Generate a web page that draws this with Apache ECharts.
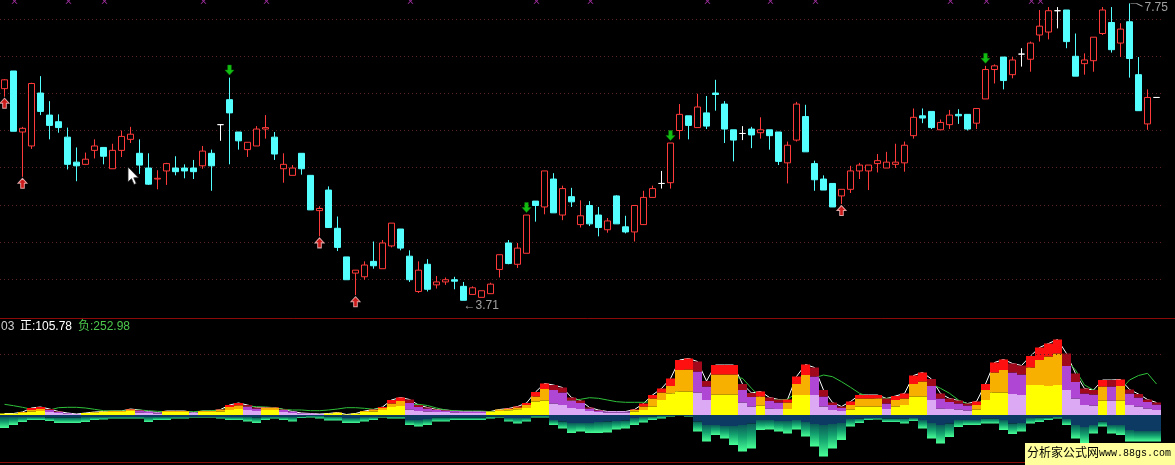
<!DOCTYPE html>
<html>
<head>
<meta charset="utf-8">
<script src="https://cdn.jsdelivr.net/npm/echarts@6/dist/echarts.min.js"></script>
<style>
html,body{margin:0;padding:0;background:#000;overflow:hidden;}
#c{width:1175px;height:465px;}
</style>
</head>
<body>
<div id="c"></div>
<script>
// ---------- price panel (candles) ----------
const opens = [
6.59,6.83,6.00,5.81,6.53,6.23,6.14,5.93,5.59,5.56,
5.75,5.79,5.50,5.75,5.90,5.71,5.51,5.36,5.47,5.51,
5.51,5.51,5.54,5.71,6.10,6.44,6.00,5.76,5.81,6.04,
5.93,5.50,5.41,5.71,5.41,4.93,5.21,4.69,4.30,4.08,
4.03,4.24,4.14,4.45,4.68,4.31,3.83,4.20,3.92,3.96,
3.99,3.90,3.79,3.75,3.80,4.13,4.49,4.20,4.35,5.06,
4.98,5.36,4.87,5.12,4.74,5.00,4.87,4.67,5.13,4.71,
4.64,4.74,5.11,5.30,5.31,6.02,6.22,6.06,6.26,6.53,
6.38,6.03,5.98,6.04,5.99,6.03,6.00,5.58,5.89,6.21,
5.57,5.36,5.30,5.13,5.22,5.47,5.47,5.57,5.51,5.56,
5.58,5.95,6.22,6.28,6.03,6.10,6.24,6.24,6.12,6.45,
6.85,7.02,6.78,7.06,6.99,7.32,7.36,7.65,7.66,7.03,
6.93,6.97,7.34,7.49,7.21,7.50,6.78,6.11,6.47];
const closes = [
6.71,6.01,6.05,6.66,6.28,6.09,6.06,5.56,5.54,5.63,
5.81,5.67,5.75,5.94,5.97,5.55,5.29,5.37,5.57,5.46,
5.47,5.46,5.74,5.54,6.10,6.26,5.88,5.86,6.04,6.06,
5.70,5.56,5.51,5.50,4.94,4.96,4.70,4.43,3.99,4.12,
4.19,4.18,4.49,4.76,4.42,3.99,4.12,3.86,3.96,3.99,
3.97,3.71,3.88,3.84,3.93,4.33,4.21,4.42,4.87,5.00,
5.47,4.90,5.23,5.05,4.86,4.75,4.70,4.79,4.75,4.64,
5.00,5.11,5.23,5.30,5.85,6.24,6.09,6.34,6.08,6.51,
6.04,5.89,5.98,5.96,6.03,5.95,5.60,5.82,6.38,5.73,
5.35,5.21,4.98,5.22,5.47,5.55,5.55,5.61,5.59,5.59,
5.82,6.20,6.19,6.06,6.13,6.23,6.22,6.04,6.32,6.85,
6.90,6.70,6.98,7.06,7.21,7.44,7.65,7.65,7.23,6.76,
6.98,7.29,7.66,7.12,7.40,7.00,6.29,6.47,6.47];
const lows = [
6.48,6.01,5.39,5.77,6.23,5.90,5.99,5.49,5.33,5.55,
5.64,5.56,5.50,5.66,5.85,5.43,5.28,5.22,5.28,5.41,
5.37,5.36,5.50,5.20,5.88,5.56,5.76,5.66,5.81,5.91,
5.62,5.31,5.41,5.42,4.94,4.58,4.70,4.38,3.99,3.78,
3.99,4.14,4.14,4.43,4.39,3.96,3.81,3.83,3.87,3.92,
3.86,3.71,3.79,3.75,3.80,4.02,4.20,4.15,4.35,4.78,
4.88,4.90,4.80,4.98,4.70,4.72,4.58,4.63,4.75,4.62,
4.51,4.74,5.11,5.23,5.23,5.90,5.90,6.06,6.04,6.29,
5.85,5.60,5.89,5.78,5.91,5.76,5.55,5.30,5.87,5.73,
5.20,5.21,4.98,5.02,5.17,5.36,5.21,5.45,5.51,5.51,
5.46,5.91,6.12,6.04,6.03,6.04,6.11,6.02,6.04,6.45,
6.66,6.58,6.73,6.89,6.82,7.23,7.26,7.41,7.14,6.76,
6.78,6.82,7.32,7.08,7.02,6.74,6.29,6.03,6.47];
const highs = [
6.72,6.83,6.07,6.67,6.76,6.42,6.24,6.06,5.79,5.72,
5.90,5.79,5.84,6.02,6.07,5.90,5.71,5.48,5.58,5.67,
5.56,5.62,5.81,5.76,6.10,6.74,6.00,5.86,6.08,6.23,
6.00,5.71,5.55,5.71,5.41,4.99,5.26,4.85,4.30,4.12,
4.24,4.51,4.53,4.76,4.68,4.39,4.24,4.27,4.04,4.02,
4.03,3.96,3.90,3.84,3.95,4.33,4.53,4.49,4.87,5.06,
5.47,5.44,5.27,5.24,5.07,5.06,4.98,4.83,5.14,4.86,
5.00,5.20,5.27,5.47,5.85,6.38,6.22,6.52,6.49,6.71,
6.42,6.03,6.08,6.07,6.20,6.03,6.00,5.87,6.41,6.37,
5.61,5.41,5.30,5.22,5.54,5.58,5.55,5.70,5.73,5.84,
5.87,6.32,6.32,6.28,6.17,6.30,6.31,6.24,6.32,6.90,
6.92,7.02,7.02,7.14,7.23,7.66,7.70,7.70,7.66,7.34,
7.07,7.29,7.70,7.70,7.48,7.75,7.02,6.58,6.47];

const buySignals  = [0, 2, 35, 39, 93];     // red up arrows under the low
const sellSignals = [25, 58, 74, 109];      // green down arrows over the high
const topMarks    = [1, 7, 11, 22, 29, 45, 59, 65, 78, 85, 90, 105, 109, 114, 115];
const lowIndex = 51, highIndex = 125;

// ---------- indicator panel ----------
// positive stack: bottom / middle / top layer; rising=1 -> yellow/orange/red, 0 -> lavender/purple/dark red
const posA = [
15,15,20,35,40,30,20,15,10,20, 25,30,30,30,40,25,20,15,30,30,
30,20,30,30,35,50,60,50,40,50, 50,30,20,15,10,10,15,20,5,15,
30,35,50,80,90,55,40,35,30,30, 25,20,20,20,30,40,45,55,70,135,
145,115,100,70,60,40,30,25,25,25, 35,50,85,150,215,235,235,225,150,205,
205,205,125,85,95,65,60,60,200,200, 200,85,50,40,55,85,85,85,60,85,
100,185,185,150,65,60,55,45,55,150, 225,225,210,200,300,300,290,300,250,165,
100,95,145,145,145,100,85,65,50];
const posB = [
0,0,10,15,20,20,10,5,0,0, 5,5,10,10,15,20,15,10,10,10,
10,5,10,10,15,30,35,35,25,20, 20,20,15,5,5,0,0,5,0,0,
10,15,20,35,50,65,40,30,20,15, 15,15,15,15,5,15,15,20,30,50,
115,135,125,75,60,25,15,10,10,10, 15,35,80,75,75,215,220,210,135,200,
200,200,125,95,90,75,65,65,110,200, 185,100,50,30,45,80,80,80,55,65,
65,125,150,140,100,70,60,50,45,100, 200,225,215,205,175,250,295,315,240,165,
115,110,140,140,145,115,90,65,55];
const posC = [
0,0,0,20,20,10,5,0,0,0, 0,0,0,0,5,5,0,0,0,0,
0,0,0,0,5,20,25,15,10,5, 5,5,0,0,0,0,0,0,0,0,
0,5,10,35,35,35,20,10,5,5, 0,0,0,0,0,0,5,10,20,45,
55,50,50,30,25,10,5,0,0,0, 5,30,35,40,75,100,110,100,55,95,
95,95,60,40,50,35,30,30,75,105, 90,65,25,15,35,35,35,35,50,40,
50,85,90,70,50,35,30,20,35,60, 100,105,90,90,115,125,130,140,125,85,
50,45,65,65,65,40,35,25,20];
const rising = [
1,1,1,1,1,0,0,0,0,1, 1,1,1,1,1,0,0,0,1,1,
1,0,1,1,1,1,1,0,0,1, 1,0,0,0,0,0,1,1,1,1,
1,1,1,1,1,0,0,0,0,0, 0,0,0,0,1,1,1,1,1,1,
1,0,0,0,0,0,0,0,0,0, 1,1,1,1,1,1,1,0,0,1,
1,1,0,0,1,0,0,1,1,1, 0,0,0,0,1,1,1,1,0,1,
1,1,1,0,0,0,0,0,1,1, 1,1,0,0,1,1,1,1,0,0,
0,0,1,0,1,0,0,0,0];
// negative stack (depth below zero): navy part and green part
const negNavy = [
20,20,20,20,20,25,25,25,25,20, 20,20,20,20,20,20,20,20,20,20,
20,20,20,20,20,20,20,20,25,20, 20,20,20,15,10,10,15,15,30,30,
20,20,15,15,15,50,50,40,25,25, 25,25,25,25,15,15,30,30,30,10,
10,50,65,80,80,80,70,65,60,55, 30,20,15,10,10,5,10,65,100,100,
110,110,100,85,50,50,60,60,50,70, 90,100,90,80,40,35,30,30,35,35,
35,30,50,80,100,85,50,50,50,35, 35,50,85,80,30,25,25,20,40,100,
120,100,65,100,100,150,160,160,160];
const negGreen = [
110,80,50,30,30,35,55,55,55,50, 30,25,15,15,15,15,50,30,30,15,
15,5,5,5,15,30,30,45,55,30, 15,30,45,15,15,25,40,40,50,50,
45,30,10,20,20,50,65,60,40,40, 25,25,25,25,20,10,35,55,35,15,
15,50,70,100,85,100,110,110,85,80, 70,55,35,25,5,5,5,100,165,100,
125,190,265,250,100,95,105,125,95,145, 225,315,245,170,75,45,20,15,35,35,
50,30,85,155,185,135,70,50,50,50, 50,100,105,85,55,45,25,15,60,135,
165,85,50,85,100,115,105,105,105];
const signalLine = [
107,93,77,57,50,50,73,77,77,70, 57,43,40,40,43,50,43,37,33,33,
33,33,40,43,50,77,93,90,83,80, 73,57,50,50,43,43,50,60,73,73,
67,57,67,90,100,105,107,95,70,50, 43,40,40,40,33,33,40,50,67,100,
130,135,140,143,157,173,167,150,133,127, 127,127,133,160,200,250,300,340,330,330,
350,380,367,267,177,157,150,157,220,300, 370,400,383,333,277,217,183,167,167,170,
180,220,280,310,267,217,150,110,100,180, 250,330,400,450,480,520,560,580,550,450,
300,250,240,250,250,350,395,417,310];

// price axis: grid lines every 0.505 starting at 3.495 (ticks are counted from min)
const PRICE_MIN = 3.495, PRICE_MAX = 7.796, PRICE_STEP = 0.505;
const IND_MIN = -450, IND_MAX = 1200, IND_STEP = 150, IND_GUIDE = 605;

const cats = opens.map((_, i) => String(i + 1));
const candleData = opens.map((o, i) => [o, closes[i], lows[i], highs[i]]);
const UP_COLORS = ['#ffff00', '#f8b000', '#ff1010'];
const DN_COLORS = ['#dcaaf5', '#b046d4', '#a0081c'];
function layer(arr, k) {
  return arr.map((v, i) => ({ value: v, itemStyle: { color: (rising[i] ? UP_COLORS : DN_COLORS)[k] } }));
}
const posTotal = posA.map((v, i) => v + posB[i] + posC[i]);

const GRID_LEFT = 0, GRID_W = cats.length * 9;
const GRID_DOT = '#5a2222';

const chart = echarts.init(document.getElementById('c'), null, { renderer: 'canvas', width: 1175, height: 465 });

const greenGrad = new echarts.graphic.LinearGradient(0, 0, 0, 1, [
  { offset: 0, color: '#0b5a58' },
  { offset: 0.45, color: '#13a26e' },
  { offset: 1, color: '#48ff96' }
]);

const hiddenX = (gi) => ({
  type: 'category', gridIndex: gi, data: cats, boundaryGap: true,
  axisLine: { show: false }, axisTick: { show: false }, axisLabel: { show: false }, splitLine: { show: false }
});

const option = {
  backgroundColor: '#000000',
  animation: false,
  grid: [
    { left: GRID_LEFT, width: GRID_W, top: 0, height: 316.1 },
    { left: GRID_LEFT, width: GRID_W, top: 295, height: 165 }
  ],
  xAxis: [hiddenX(0), hiddenX(1)],
  yAxis: [
    {
      type: 'value', gridIndex: 0, min: PRICE_MIN, max: PRICE_MAX, interval: PRICE_STEP,
      axisLine: { show: false }, axisTick: { show: false }, axisLabel: { show: false },
      splitLine: { show: true, showMinLine: false, showMaxLine: false,
        lineStyle: { color: GRID_DOT, type: [1, 3], width: 1 } }
    },
    {
      type: 'value', gridIndex: 1, min: IND_MIN, max: IND_MAX, interval: IND_STEP,
      axisLine: { show: false }, axisTick: { show: false }, axisLabel: { show: false },
      splitLine: { show: false }
    }
  ],
  series: [
    {
      type: 'candlestick', xAxisIndex: 0, yAxisIndex: 0, data: candleData,
      barWidth: 6, z: 3,
      itemStyle: {
        color: '#000000', color0: '#54ffff',
        borderColor: '#ff3a3a', borderColor0: '#54ffff', borderColorDoji: '#ffffff',
        borderWidth: 1
      }
    },
    {
      type: 'scatter', xAxisIndex: 0, yAxisIndex: 0, z: 5,
      data: buySignals.map(i => [i, lows[i]]),
      symbol: 'path://M5,0 L10,5 L7,5 L7,10 L3,10 L3,5 L0,5 Z',
      symbolSize: [9, 10], symbolOffset: [0, 6.5], symbolKeepAspect: false,
      itemStyle: { color: '#ff2020', borderColor: '#ffc8c8', borderWidth: 1 }
    },
    {
      type: 'scatter', xAxisIndex: 0, yAxisIndex: 0, z: 5,
      data: sellSignals.map(i => [i, highs[i]]),
      symbol: 'path://M3,0 L7,0 L7,5 L10,5 L5,10 L0,5 L3,5 Z',
      symbolSize: [9, 10], symbolOffset: [0, -7.5], symbolKeepAspect: false,
      itemStyle: { color: '#16ee16', borderColor: '#0a8a0a', borderWidth: 0.6 }
    },
    {
      type: 'scatter', xAxisIndex: 0, yAxisIndex: 0, z: 5,
      data: topMarks.map(i => [i, PRICE_MAX]),
      symbol: 'path://M0,0 L2,0 L5,3 L8,0 L10,0 L6,4 L10,8 L8,8 L5,5 L2,8 L0,8 L4,4 Z',
      symbolSize: [6, 5], symbolOffset: [1, 1.2],
      itemStyle: { color: '#c83cc8' }
    },
    {
      type: 'scatter', xAxisIndex: 0, yAxisIndex: 0, z: 6,
      data: [[lowIndex, lows[lowIndex]]], symbolSize: 0,
      label: { show: true, position: 'right', distance: 0, offset: [0, 5],
        formatter: () => '\u2190' + lows[lowIndex].toFixed(2),
        color: '#c8c8c8', fontSize: 12, fontFamily: 'Liberation Sans, Arial, sans-serif' }
    },
    {
      type: 'scatter', xAxisIndex: 0, yAxisIndex: 0, z: 6,
      data: [[highIndex, highs[highIndex]]],
      symbol: 'path://M0,0 L6,0 L12,3', symbolSize: [12, 3], symbolOffset: [7, 1.5], symbolKeepAspect: false,
      itemStyle: { color: 'rgba(0,0,0,0)', borderColor: '#e0e0e0', borderWidth: 1 }
    },
    {
      type: 'scatter', xAxisIndex: 0, yAxisIndex: 0, z: 6,
      data: [[highIndex, highs[highIndex]]], symbolSize: 0,
      label: { show: true, position: 'right', distance: 0, offset: [15, 4],
        formatter: () => highs[highIndex].toFixed(2),
        color: '#c8c8c8', fontSize: 12, fontFamily: 'Liberation Sans, Arial, sans-serif' }
    },
    {
      type: 'line', xAxisIndex: 1, yAxisIndex: 1, z: 1, data: posTotal,
      symbol: 'none', lineStyle: { color: '#ffffff', width: 1 }
    },
    {
      type: 'line', xAxisIndex: 1, yAxisIndex: 1, z: 1, data: signalLine,
      symbol: 'none', lineStyle: { color: '#2fc03a', width: 1 }
    },
    {
      type: 'bar', xAxisIndex: 1, yAxisIndex: 1, z: 2, stack: 'pos', barWidth: 9, barGap: '-100%',
      data: layer(posA, 0),
      markLine: { silent: true, symbol: 'none', label: { show: false },
        lineStyle: { color: GRID_DOT, type: [1, 3], width: 1 }, data: [{ yAxis: IND_GUIDE }] }
    },
    { type: 'bar', xAxisIndex: 1, yAxisIndex: 1, z: 2, stack: 'pos', barWidth: 9, barGap: '-100%', data: layer(posB, 1) },
    { type: 'bar', xAxisIndex: 1, yAxisIndex: 1, z: 2, stack: 'pos', barWidth: 9, barGap: '-100%', data: layer(posC, 2) },
    {
      type: 'bar', xAxisIndex: 1, yAxisIndex: 1, z: 2, stack: 'neg', barWidth: 9, barGap: '-100%',
      data: negNavy.map(v => -v), itemStyle: { color: '#0d3a62' }
    },
    {
      type: 'bar', xAxisIndex: 1, yAxisIndex: 1, z: 2, stack: 'neg', barWidth: 9, barGap: '-100%',
      data: negGreen.map(v => -v), itemStyle: { color: greenGrad }
    }
  ],
  graphic: [
    { type: 'line', silent: true, z: 10, shape: { x1: 0, y1: 318.5, x2: 1175, y2: 318.5 }, style: { stroke: '#8c0a0a', lineWidth: 1 } },
    { type: 'line', silent: true, z: 10, shape: { x1: 0, y1: 462.5, x2: 1175, y2: 462.5 }, style: { stroke: '#8c0a0a', lineWidth: 1 } },
    { type: 'text', silent: true, z: 10, left: 1, top: 321,
      style: { text: '03', fill: '#d0d0d0', font: '12px "Liberation Sans", "Noto Sans CJK SC", sans-serif' } },
    { type: 'text', silent: true, z: 10, left: 20, top: 321,
      style: { text: '正:105.78', fill: '#ffffff', font: '12px "Liberation Sans", "Noto Sans CJK SC", sans-serif' } },
    { type: 'text', silent: true, z: 10, left: 78, top: 321,
      style: { text: '负:252.98', fill: '#4cc84c', font: '12px "Liberation Sans", "Noto Sans CJK SC", sans-serif' } },
    { type: 'polygon', silent: true, z: 12,
      shape: { points: [[128,167],[128,182],[131.5,178.7],[134,184.5],[136.3,183.5],[133.8,177.8],[138.5,177.8]] },
      style: { fill: '#ffffff', stroke: '#202020', lineWidth: 0.8 } },
    { type: 'rect', silent: true, z: 12, shape: { x: 1025, y: 443, width: 150, height: 22 }, style: { fill: '#ffff9c' } },
    { type: 'text', silent: true, z: 13, left: 1027, top: 446,
      style: { text: '分析家公式网', fill: '#000000', font: '12px "Noto Sans CJK SC", sans-serif' } },
    { type: 'text', silent: true, z: 13, left: 1099, top: 448,
      style: { text: 'www.88gs.com', fill: '#000000', font: '10px "Liberation Mono", "DejaVu Sans Mono", monospace' } }
  ]
};
chart.setOption(option);
</script>
</body>
</html>
